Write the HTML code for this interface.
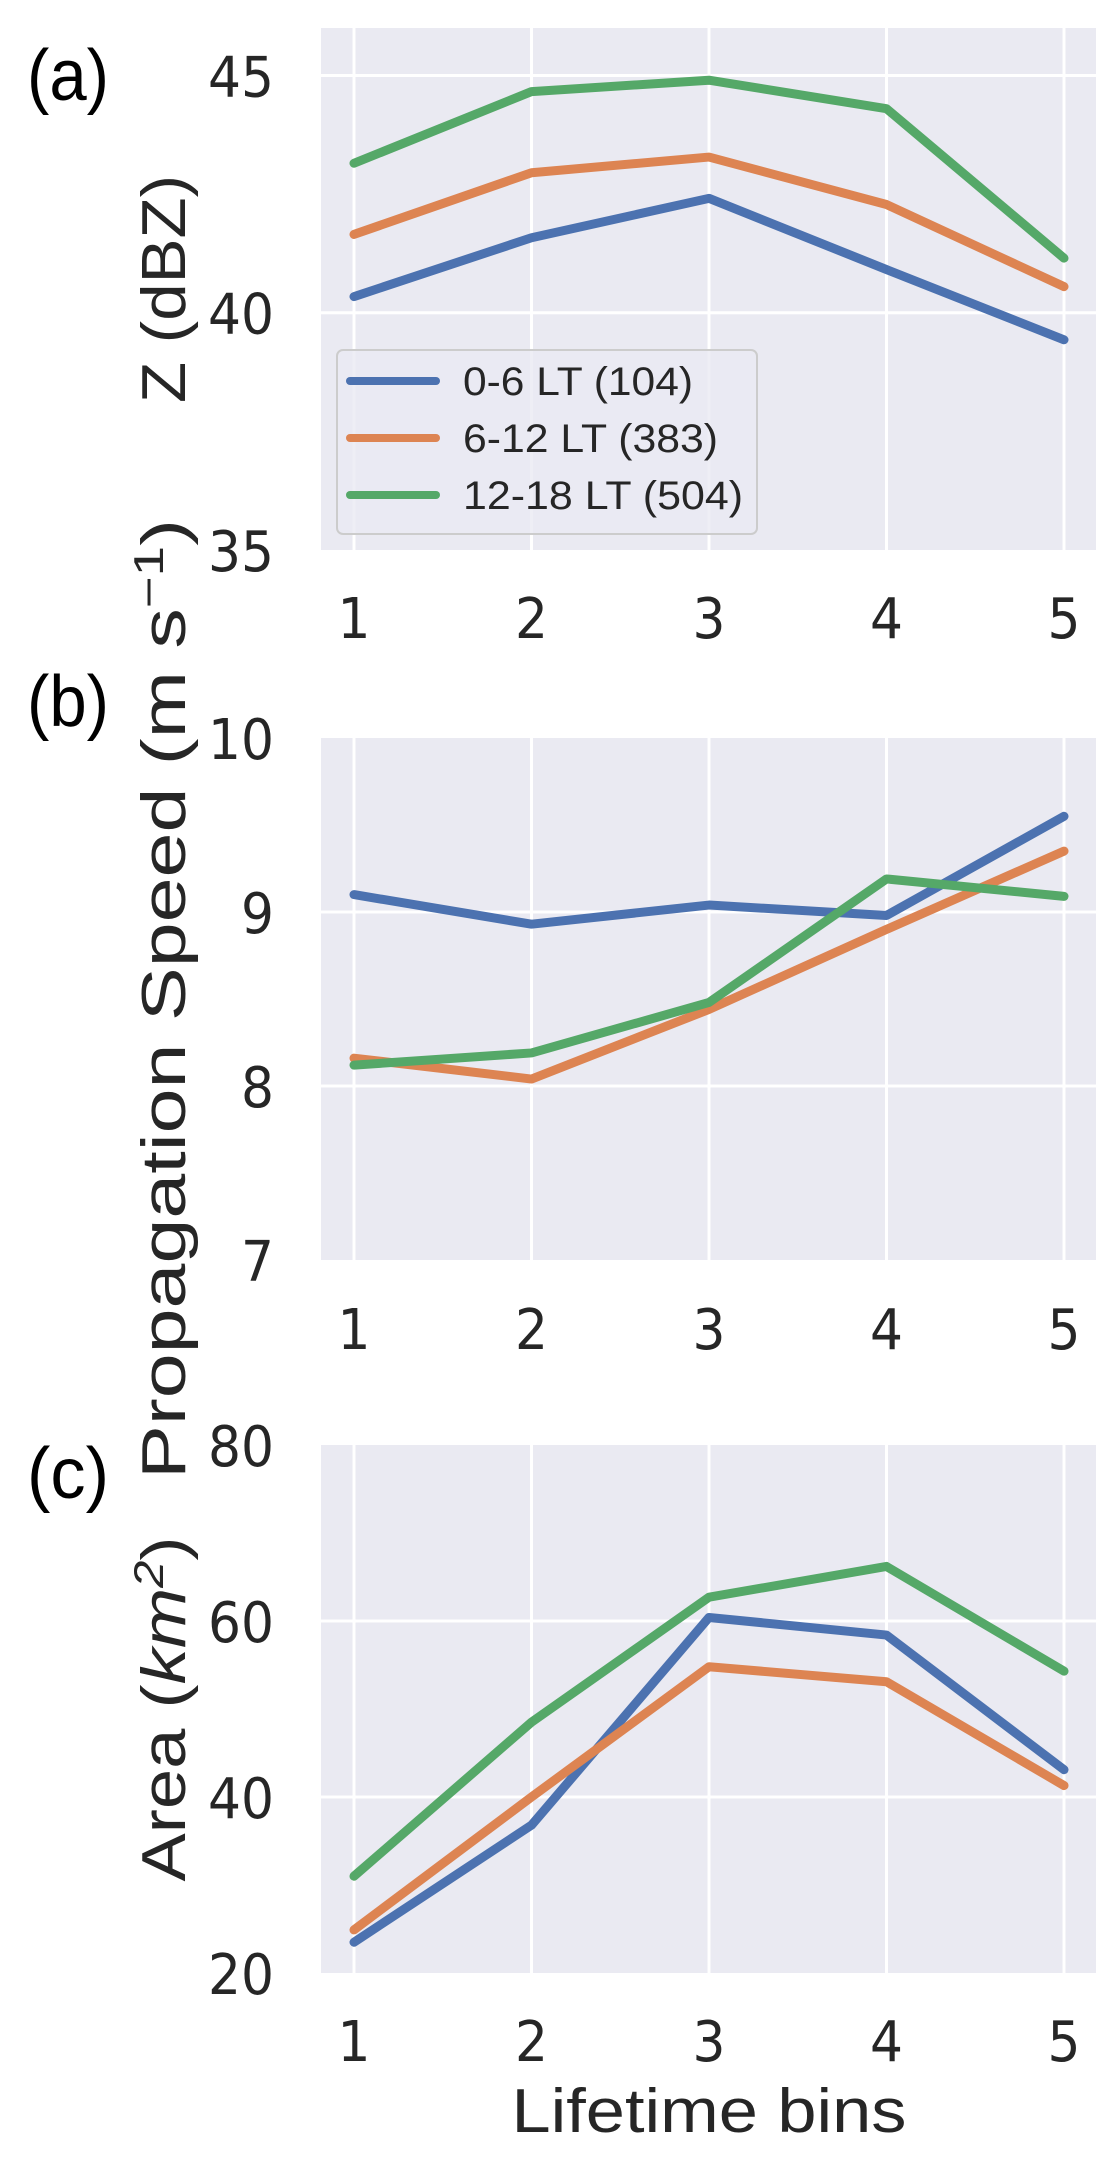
<!DOCTYPE html>
<html><head><meta charset="utf-8"><style>
html,body{margin:0;padding:0;background:#fff;}
svg{display:block;}
</style></head><body>
<svg id="fig" width="1120" height="2160" viewBox="0 0 1120 2160" xmlns="http://www.w3.org/2000/svg"></svg>
<script>
const categories = [1, 2, 3, 4, 5];
const seriesNames = ["0-6 LT (104)", "6-12 LT (383)", "12-18 LT (504)"];
const zBlue = [40.34, 41.58, 42.41, 40.91, 39.43];
const zOrange = [41.65, 42.95, 43.28, 42.28, 40.55];
const zGreen = [43.15, 44.66, 44.9, 44.3, 41.15];
const spBlue = [9.1, 8.93, 9.04, 8.98, 9.55];
const spOrange = [8.16, 8.04, 8.44, 8.9, 9.35];
const spGreen = [8.12, 8.19, 8.48, 9.19, 9.09];
const arBlue = [23.5, 36.8, 60.4, 58.4, 43.1];
const arOrange = [24.9, 40.0, 54.8, 53.1, 41.3];
const arGreen = [31.0, 48.5, 62.7, 66.2, 54.3];
const zTicks = [35, 40, 45];
const spTicks = [7, 8, 9, 10];
const arTicks = [20, 40, 60, 80];

const NS = "http://www.w3.org/2000/svg";
const svg = document.getElementById("fig");
const colors = ["#4C72B0", "#DD8452", "#55A868"];
function mk(tag, attrs, parent) {
  const e = document.createElementNS(NS, tag);
  for (const k in attrs) e.setAttribute(k, attrs[k]);
  (parent || svg).appendChild(e);
  return e;
}
const X0 = 321, X1 = 1096, G1 = 354, G5 = 1064;
function xs(v) { return G1 + (v - 1) * (G5 - G1) / 4; }

function panel(key, top, bottom, ymin, ymax, ticks, series, label, labelY, xtickY, title, titleLen) {
  const g = mk("g", {});
  
  
  const ys = v => bottom - (v - ymin) * (bottom - top) / (ymax - ymin);
  const bg = mk("rect", {x: X0, y: top, width: X1 - X0, height: bottom - top, fill: "#EAEAF2"}, g);
  
  
  categories.forEach(c => {
    const l = mk("line", {x1: xs(c), x2: xs(c), y1: top, y2: bottom, stroke: "#fff", "stroke-width": 3}, g);
    
    
    const t = mk("text", {x: xs(c), y: xtickY + 21, "text-anchor": "middle", "font-family": "DejaVu Sans, sans-serif", "font-size": 56, fill: "#262626", textLength: 33, lengthAdjust: "spacingAndGlyphs"}, g);
    t.textContent = c;
    
    
  });
  ticks.forEach(v => {
    const y = ys(v);
    if (y > top + 2 && y < bottom - 2) {
      const l = mk("line", {x1: X0, x2: X1, y1: y, y2: y, stroke: "#fff", "stroke-width": 3}, g);
      
      
    }
    const t = mk("text", {x: 274, y: y + 21, "text-anchor": "end", "font-family": "DejaVu Sans, sans-serif", "font-size": 56, fill: "#262626", textLength: String(v).length * 33, lengthAdjust: "spacingAndGlyphs"}, g);
    t.textContent = v;
    
    
  });
  series.forEach((s, i) => {
    const pts = s.map((v, j) => xs(categories[j]) + "," + ys(v)).join(" ");
    const p = mk("polyline", {points: pts, fill: "none", stroke: colors[i], "stroke-width": 9, "stroke-linejoin": "round", "stroke-linecap": "round"}, g);
    
    
  });
  const cy = (top + bottom) / 2;
  const tt = mk("text", {x: 0, y: 0, transform: "translate(185," + cy + ") rotate(-90)", "text-anchor": "middle", "font-family": "Liberation Sans, sans-serif", "font-size": 62, fill: "#262626", textLength: titleLen, lengthAdjust: "spacingAndGlyphs"}, g);
  tt.innerHTML = title;
  
  
  const pl = mk("text", {x: 27, y: labelY, "font-family": "Liberation Sans, sans-serif", "font-size": 72, fill: "#000", textLength: 82, lengthAdjust: "spacingAndGlyphs"}, g);
  pl.textContent = label;
  
  
  return g;
}

panel("a", 28, 550, 35, 46, zTicks, [zBlue, zOrange, zGreen], "(a)", 100, 617, "Z (dBZ)", 228);
panel("b", 738, 1260, 7, 10, spTicks, [spBlue, spOrange, spGreen], "(b)", 726, 1328,
  'Propagation Speed (m s<tspan dy="-22" font-size="42">−1</tspan><tspan dy="22">)</tspan>', 960);
panel("c", 1445, 1973, 20, 80, arTicks, [arBlue, arOrange, arGreen], "(c)", 1498, 2040,
  'Area (<tspan font-style="italic">km</tspan><tspan dy="-22" font-size="42" font-style="italic">2</tspan><tspan dy="22">)</tspan>', 345);

// legend
const lg = mk("g", {});


const lb = mk("rect", {x: 337, y: 350, width: 420, height: 184, rx: 6, fill: "#EAEAF2", "fill-opacity": 0.8, stroke: "#CCCCCC", "stroke-width": 2}, lg);


const legY = [381, 438, 495];
seriesNames.forEach((n, i) => {
  const l = mk("line", {x1: 350, x2: 436, y1: legY[i], y2: legY[i], stroke: colors[i], "stroke-width": 8, "stroke-linecap": "round"}, lg);
  
  
  const t = mk("text", {x: 463, y: legY[i] + 14, "font-family": "Liberation Sans, sans-serif", "font-size": 40, fill: "#262626", textLength: [230, 255, 280][i], lengthAdjust: "spacingAndGlyphs"}, lg);
  t.textContent = n;
  
  
});

const xl = mk("text", {x: 709, y: 2132, "text-anchor": "middle", "font-family": "Liberation Sans, sans-serif", "font-size": 62, fill: "#262626", textLength: 395, lengthAdjust: "spacingAndGlyphs"});
xl.textContent = "Lifetime bins";


</script>
</body></html>
